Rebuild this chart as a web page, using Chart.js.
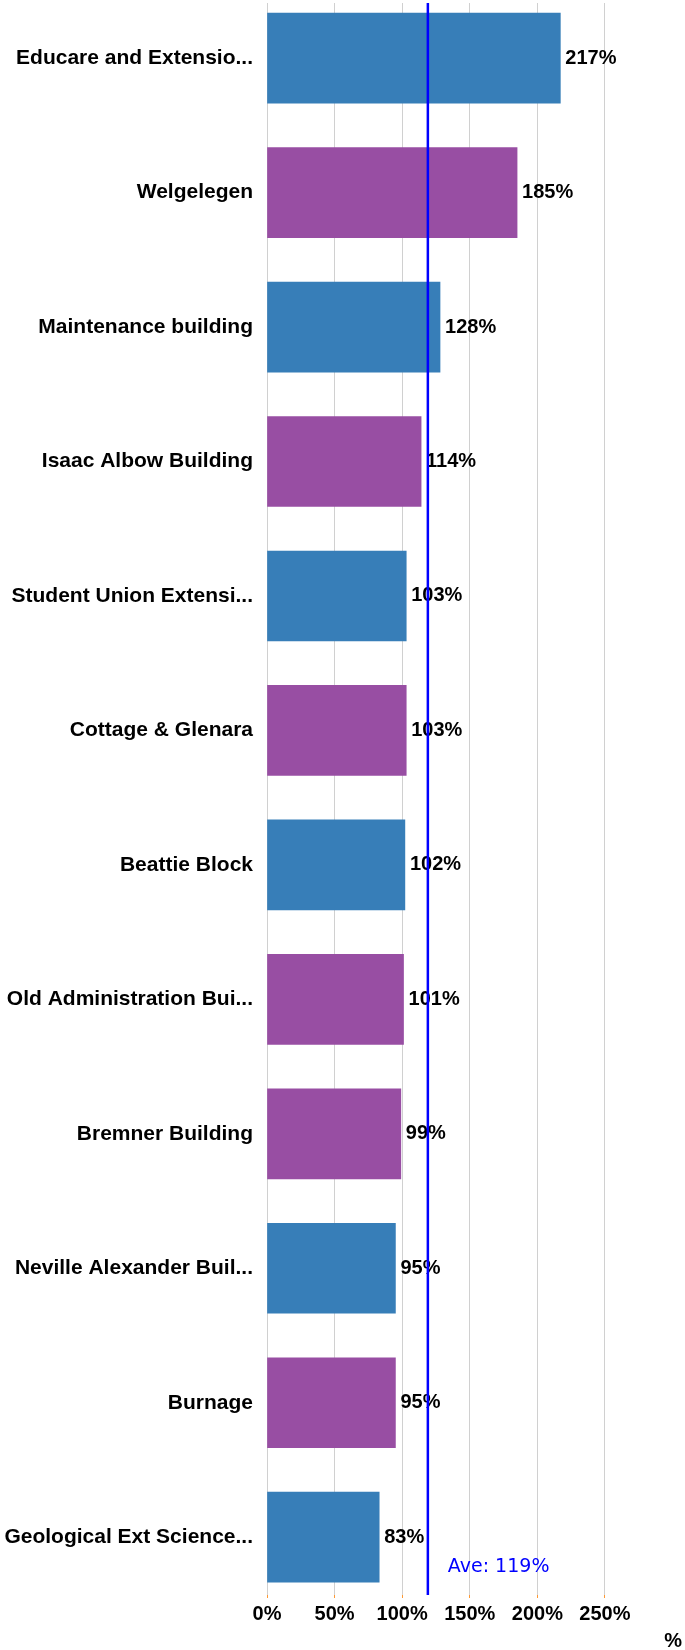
<!DOCTYPE html>
<html>
<head>
<meta charset="utf-8">
<script src="https://cdn.jsdelivr.net/npm/chart.js@4/dist/chart.umd.min.js"></script>
<style>
  html, body { margin: 0; padding: 0; background: #fff; }
  #wrap { width: 685px; height: 1650px; position: relative; }
</style>
</head>
<body>
<div id="wrap"><canvas id="myChart"></canvas></div>
<script>
var categories = [
  "Educare and Extensio...",
  "Welgelegen",
  "Maintenance building",
  "Isaac Albow Building",
  "Student Union Extensi...",
  "Cottage & Glenara",
  "Beattie Block",
  "Old Administration Bui...",
  "Bremner Building",
  "Neville Alexander Buil...",
  "Burnage",
  "Geological Ext Science..."
];
var values = [217, 185, 128, 114, 103, 103, 102, 101, 99, 95, 95, 83];
var xTicks = [0, 50, 100, 150, 200, 250];
var average = 119;

var BLUE = "#377eb8", PURPLE = "#984ea3";
var barColors = [BLUE, PURPLE, BLUE, PURPLE, BLUE, PURPLE, BLUE, PURPLE, PURPLE, BLUE, PURPLE, BLUE];
var labelFont = "bold 20px 'Liberation Sans', Arial, sans-serif";

// value labels + average line
var overlay = {
  id: "overlay",
  afterDatasetsDraw: function (chart) {
    var ctx = chart.ctx;
    var area = chart.chartArea;
    var meta = chart.getDatasetMeta(0);
    ctx.save();
    ctx.font = labelFont;
    ctx.fillStyle = "#000";
    ctx.textAlign = "left";
    ctx.textBaseline = "middle";
    meta.data.forEach(function (bar, i) {
      ctx.fillText(values[i] + "%", bar.x + 5, bar.y);
    });

    var x = chart.scales.x.getPixelForValue(average);
    ctx.strokeStyle = "#0000ff";
    ctx.lineWidth = 2.5;
    ctx.beginPath();
    ctx.moveTo(x, area.top);
    ctx.lineTo(x, area.bottom);
    ctx.stroke();

    ctx.font = "19px 'DejaVu Sans', sans-serif";
    ctx.fillStyle = "#0000ff";
    ctx.fillText("Ave: " + average + "%", x + 20, area.bottom - 28);
    ctx.restore();
  }
};

new Chart("myChart", {
  type: "bar",
  data: {
    datasets: [{
      data: values.map(function (v, i) { return { x: v, y: i }; }),
      backgroundColor: barColors,
      barThickness: 90
    }]
  },
  options: {
    indexAxis: "y",
    responsive: true,
    maintainAspectRatio: false,
    animation: false,
    layout: { padding: { top: 3, right: 3, left: 0, bottom: 0 } },
    plugins: {
      legend: { display: false },
      tooltip: { enabled: false }
    },
    scales: {
      x: {
        type: "linear",
        position: "bottom",
        min: 0,
        max: 307,
        afterBuildTicks: function (scale) {
          scale.ticks = xTicks.map(function (v) { return { value: v }; });
        },
        afterFit: function (scale) { scale.height = 55; },
        grid: {
          color: "#d0d0d0",
          lineWidth: 1,
          borderDash: [3, 2],
          drawTicks: true,
          tickLength: 3,
          tickColor: "#ff9933"
        },
        border: { display: false },
        ticks: {
          padding: 4,
          color: "#000",
          font: { family: "'Liberation Sans', Arial, sans-serif", size: 20, weight: "bold" },
          callback: function (v) { return v + "%"; }
        },
        title: {
          display: true,
          text: "%",
          align: "end",
          color: "#000",
          font: { family: "'Liberation Sans', Arial, sans-serif", size: 20, weight: "bold" },
          padding: { top: 0, bottom: -3 }
        }
      },
      y: {
        type: "linear",
        reverse: true,
        offset: false,
        min: -0.41,
        max: 11.43,
        afterFit: function (scale) {
          scale.width = 267;
          scale.paddingTop = 0;
          scale.paddingBottom = 0;
        },
        grid: { display: false, drawTicks: false },
        border: { display: false },
        ticks: {
          stepSize: 1,
          includeBounds: false,
          maxTicksLimit: 30,
          autoSkip: false,
          padding: 14,
          color: "#000",
          font: { family: "'Liberation Sans', Arial, sans-serif", size: 21, weight: "bold" },
          callback: function (v) {
            return Number.isInteger(v) ? categories[v] : "";
          }
        }
      }
    }
  },
  plugins: [overlay]
});
</script>
</body>
</html>
